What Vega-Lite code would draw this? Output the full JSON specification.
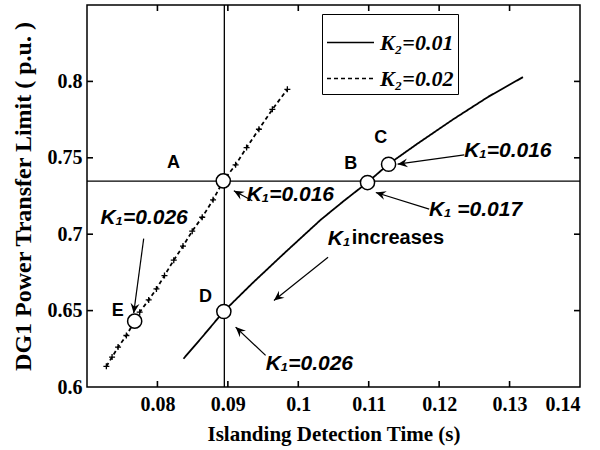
{
  "$schema": "https://vega.github.io/schema/vega-lite/v6.json",
  "width": 493,
  "height": 382,
  "autosize": {"type": "none"},
  "padding": {"left": 87, "top": 5, "right": 20, "bottom": 63},
  "background": "white",
  "config": {
    "view": {"stroke": "black", "strokeWidth": 1.5},
    "axis": {
      "domain": false, "grid": false, "ticks": false,
      "labelFont": "Liberation Serif", "labelFontWeight": "bold", "labelFontSize": 20, "labelColor": "black",
      "titleFont": "Liberation Serif", "titleFontWeight": "bold", "titleFontSize": 21, "titleColor": "black"
    }
  },
  "datasets": {
    "xticks": [{"v": 0.08}, {"v": 0.09}, {"v": 0.1}, {"v": 0.11}, {"v": 0.12}, {"v": 0.13}],
    "yticks": [{"v": 0.65}, {"v": 0.7}, {"v": 0.75}, {"v": 0.8}],
    "curves": [
      {"series": "K₂=0.01", "x": 0.0837, "y": 0.6185},
      {"series": "K₂=0.01", "x": 0.0865, "y": 0.6335},
      {"series": "K₂=0.01", "x": 0.0894, "y": 0.6494},
      {"series": "K₂=0.01", "x": 0.0935, "y": 0.6680},
      {"series": "K₂=0.01", "x": 0.0980, "y": 0.6875},
      {"series": "K₂=0.01", "x": 0.1032, "y": 0.7095},
      {"series": "K₂=0.01", "x": 0.1065, "y": 0.7219},
      {"series": "K₂=0.01", "x": 0.1098, "y": 0.7338},
      {"series": "K₂=0.01", "x": 0.1128, "y": 0.7458},
      {"series": "K₂=0.01", "x": 0.1170, "y": 0.7595},
      {"series": "K₂=0.01", "x": 0.1220, "y": 0.7752},
      {"series": "K₂=0.01", "x": 0.1270, "y": 0.7900},
      {"series": "K₂=0.01", "x": 0.1319, "y": 0.8028},
      {"series": "K₂=0.02", "x": 0.07275, "y": 0.6135},
      {"series": "K₂=0.02", "x": 0.07356, "y": 0.6196},
      {"series": "K₂=0.02", "x": 0.07441, "y": 0.6261},
      {"series": "K₂=0.02", "x": 0.07559, "y": 0.6337},
      {"series": "K₂=0.02", "x": 0.07677, "y": 0.6431},
      {"series": "K₂=0.02", "x": 0.07748, "y": 0.6490},
      {"series": "K₂=0.02", "x": 0.07876, "y": 0.6570},
      {"series": "K₂=0.02", "x": 0.07986, "y": 0.6642},
      {"series": "K₂=0.02", "x": 0.08100, "y": 0.6729},
      {"series": "K₂=0.02", "x": 0.08232, "y": 0.6830},
      {"series": "K₂=0.02", "x": 0.08363, "y": 0.6922},
      {"series": "K₂=0.02", "x": 0.08494, "y": 0.7020},
      {"series": "K₂=0.02", "x": 0.08636, "y": 0.7111},
      {"series": "K₂=0.02", "x": 0.08790, "y": 0.7225},
      {"series": "K₂=0.02", "x": 0.08935, "y": 0.7349},
      {"series": "K₂=0.02", "x": 0.09110, "y": 0.7454},
      {"series": "K₂=0.02", "x": 0.09266, "y": 0.7567},
      {"series": "K₂=0.02", "x": 0.09441, "y": 0.7687},
      {"series": "K₂=0.02", "x": 0.09632, "y": 0.7817},
      {"series": "K₂=0.02", "x": 0.09845, "y": 0.7948}
    ],
    "circles": [
      {"name": "A", "x": 0.08935, "y": 0.7349},
      {"name": "B", "x": 0.10983, "y": 0.7338},
      {"name": "C", "x": 0.11282, "y": 0.7458},
      {"name": "D", "x": 0.08943, "y": 0.6494},
      {"name": "E", "x": 0.07677, "y": 0.6431}
    ],
    "letters": [
      {"t": "A", "x": 0.08228, "y": 0.7468},
      {"t": "B", "x": 0.10745, "y": 0.7462},
      {"t": "C", "x": 0.11172, "y": 0.7632},
      {"t": "D", "x": 0.08683, "y": 0.6587},
      {"t": "E", "x": 0.07438, "y": 0.6497}
    ],
    "klabels": [
      {"t": "K₁=0.026", "x": 0.0719, "y": 0.7107},
      {"t": "K₁=0.016", "x": 0.09267, "y": 0.7257},
      {"t": "K₁=0.016", "x": 0.12355, "y": 0.7544},
      {"t": "K₁ =0.017", "x": 0.11855, "y": 0.7160},
      {"t": "K₁=0.026", "x": 0.09537, "y": 0.6148},
      {"t": "K₁", "x": 0.10418, "y": 0.6970}
    ],
    "words": [
      {"t": "increases", "x": 0.10760, "y": 0.6978}
    ],
    "arrows": [
      {"tx": 0.07805, "ty": 0.6971, "hx": 0.07663, "hy": 0.6483, "ang": 97.6},
      {"tx": 0.09347, "ty": 0.7219, "hx": 0.09085, "hy": 0.7284, "ang": 209},
      {"tx": 0.12357, "ty": 0.7519, "hx": 0.11410, "hy": 0.7458, "ang": 172.3},
      {"tx": 0.11859, "ty": 0.7164, "hx": 0.11101, "hy": 0.7273, "ang": 197.8},
      {"tx": 0.09536, "ty": 0.6207, "hx": 0.09110, "hy": 0.6392, "ang": 223},
      {"tx": 0.10423, "ty": 0.6849, "hx": 0.09654, "hy": 0.6566, "ang": 141.5}
    ]
  },
  "layer": [
    {
      "data": {"values": [{}]},
      "mark": {"type": "rule", "color": "black", "strokeWidth": 1.3},
      "encoding": {
        "x": {"datum": 0.0895, "type": "quantitative", "scale": {"domain": [0.07, 0.14], "nice": false, "zero": false}}
      }
    },
    {
      "data": {"values": [{}]},
      "mark": {"type": "rule", "color": "black", "strokeWidth": 1.3},
      "encoding": {
        "y": {"datum": 0.7348, "type": "quantitative", "scale": {"domain": [0.6, 0.85], "nice": false, "zero": false}}
      }
    },
    {
      "data": {"name": "xticks"},
      "mark": {"type": "point", "shape": "M0,0V-1", "size": 144, "stroke": "black", "strokeWidth": 1.6, "filled": false, "opacity": 1},
      "encoding": {
        "x": {"field": "v", "type": "quantitative"},
        "y": {"datum": 0.6, "type": "quantitative"}
      }
    },
    {
      "data": {"name": "xticks"},
      "mark": {"type": "point", "shape": "M0,0V1", "size": 144, "stroke": "black", "strokeWidth": 1.6, "filled": false, "opacity": 1},
      "encoding": {
        "x": {"field": "v", "type": "quantitative"},
        "y": {"datum": 0.85, "type": "quantitative"}
      }
    },
    {
      "data": {"name": "yticks"},
      "mark": {"type": "point", "shape": "M0,0H1", "size": 144, "stroke": "black", "strokeWidth": 1.6, "filled": false, "opacity": 1},
      "encoding": {
        "y": {"field": "v", "type": "quantitative"},
        "x": {"datum": 0.07, "type": "quantitative"}
      }
    },
    {
      "data": {"name": "yticks"},
      "mark": {"type": "point", "shape": "M0,0H-1", "size": 144, "stroke": "black", "strokeWidth": 1.6, "filled": false, "opacity": 1},
      "encoding": {
        "y": {"field": "v", "type": "quantitative"},
        "x": {"datum": 0.14, "type": "quantitative"}
      }
    },
    {
      "data": {"name": "curves"},
      "mark": {"type": "line", "color": "black", "strokeWidth": 1.8},
      "encoding": {
        "x": {"field": "x", "type": "quantitative", "scale": {"domain": [0.07, 0.14], "nice": false, "zero": false},
              "axis": {"orient": "bottom", "values": [0.08, 0.09, 0.1, 0.11, 0.12, 0.13, 0.14], "format": "~g", "labelPadding": 7,
                       "title": "Islanding Detection Time (s)", "titlePadding": 9}},
        "y": {"field": "y", "type": "quantitative", "scale": {"domain": [0.6, 0.85], "nice": false, "zero": false},
              "axis": {"orient": "left", "values": [0.6, 0.65, 0.7, 0.75, 0.8], "format": "~g", "labelPadding": 5,
                       "title": "DG1 Power Transfer Limit ( p.u. )", "titleFontSize": 24, "titlePadding": 12}},
        "strokeDash": {"field": "series", "type": "nominal",
          "scale": {"domain": ["K₂=0.01", "K₂=0.02"], "range": [[1, 0], [4, 3]]},
          "legend": {"orient": "none", "legendX": 235, "legendY": 9, "title": null, "symbolType": "stroke", "symbolSize": 2209,
            "symbolStrokeWidth": 1.6, "symbolStrokeColor": "black", "labelFont": "Liberation Serif", "labelFontStyle": "italic",
            "labelFontWeight": "bold", "labelFontSize": 22, "labelColor": "black", "strokeColor": "black", "fillColor": "white",
            "padding": 4, "rowPadding": -7, "labelOffset": 5}}
      }
    },
    {
      "data": {"name": "curves"},
      "transform": [{"filter": "datum.series == 'K₂=0.02'"}],
      "mark": {"type": "point", "shape": "M-1,0H1M0,-1V1", "size": 36, "stroke": "black", "strokeWidth": 1.3, "filled": false, "opacity": 1},
      "encoding": {
        "x": {"field": "x", "type": "quantitative"},
        "y": {"field": "y", "type": "quantitative"}
      }
    },
    {
      "data": {"name": "arrows"},
      "mark": {"type": "rule", "color": "black", "strokeWidth": 1.2},
      "encoding": {
        "x": {"field": "tx", "type": "quantitative"},
        "y": {"field": "ty", "type": "quantitative"},
        "x2": {"field": "hx"},
        "y2": {"field": "hy"}
      }
    },
    {
      "data": {"name": "arrows"},
      "mark": {"type": "point", "shape": "M0,0L-1,-0.45L-0.65,0L-1,0.45Z", "size": 400, "fill": "black", "filled": true, "strokeWidth": 0, "opacity": 1},
      "encoding": {
        "x": {"field": "hx", "type": "quantitative"},
        "y": {"field": "hy", "type": "quantitative"},
        "angle": {"field": "ang", "type": "quantitative", "scale": null}
      }
    },
    {
      "data": {"name": "circles"},
      "mark": {"type": "point", "shape": "circle", "size": 200, "fill": "white", "stroke": "black", "strokeWidth": 1.5, "filled": true, "opacity": 1},
      "encoding": {
        "x": {"field": "x", "type": "quantitative"},
        "y": {"field": "y", "type": "quantitative"}
      }
    },
    {
      "data": {"name": "letters"},
      "mark": {"type": "text", "font": "Liberation Sans", "fontWeight": "bold", "fontSize": 18, "color": "black", "align": "center", "baseline": "middle"},
      "encoding": {
        "x": {"field": "x", "type": "quantitative"},
        "y": {"field": "y", "type": "quantitative"},
        "text": {"field": "t"}
      }
    },
    {
      "data": {"name": "klabels"},
      "mark": {"type": "text", "font": "Liberation Sans", "fontWeight": "bold", "fontStyle": "italic", "fontSize": 21, "color": "black", "align": "left", "baseline": "middle"},
      "encoding": {
        "x": {"field": "x", "type": "quantitative"},
        "y": {"field": "y", "type": "quantitative"},
        "text": {"field": "t"}
      }
    },
    {
      "data": {"name": "words"},
      "mark": {"type": "text", "font": "Liberation Sans", "fontWeight": "bold", "fontSize": 20, "color": "black", "align": "left", "baseline": "middle"},
      "encoding": {
        "x": {"field": "x", "type": "quantitative"},
        "y": {"field": "y", "type": "quantitative"},
        "text": {"field": "t"}
      }
    }
  ]
}
